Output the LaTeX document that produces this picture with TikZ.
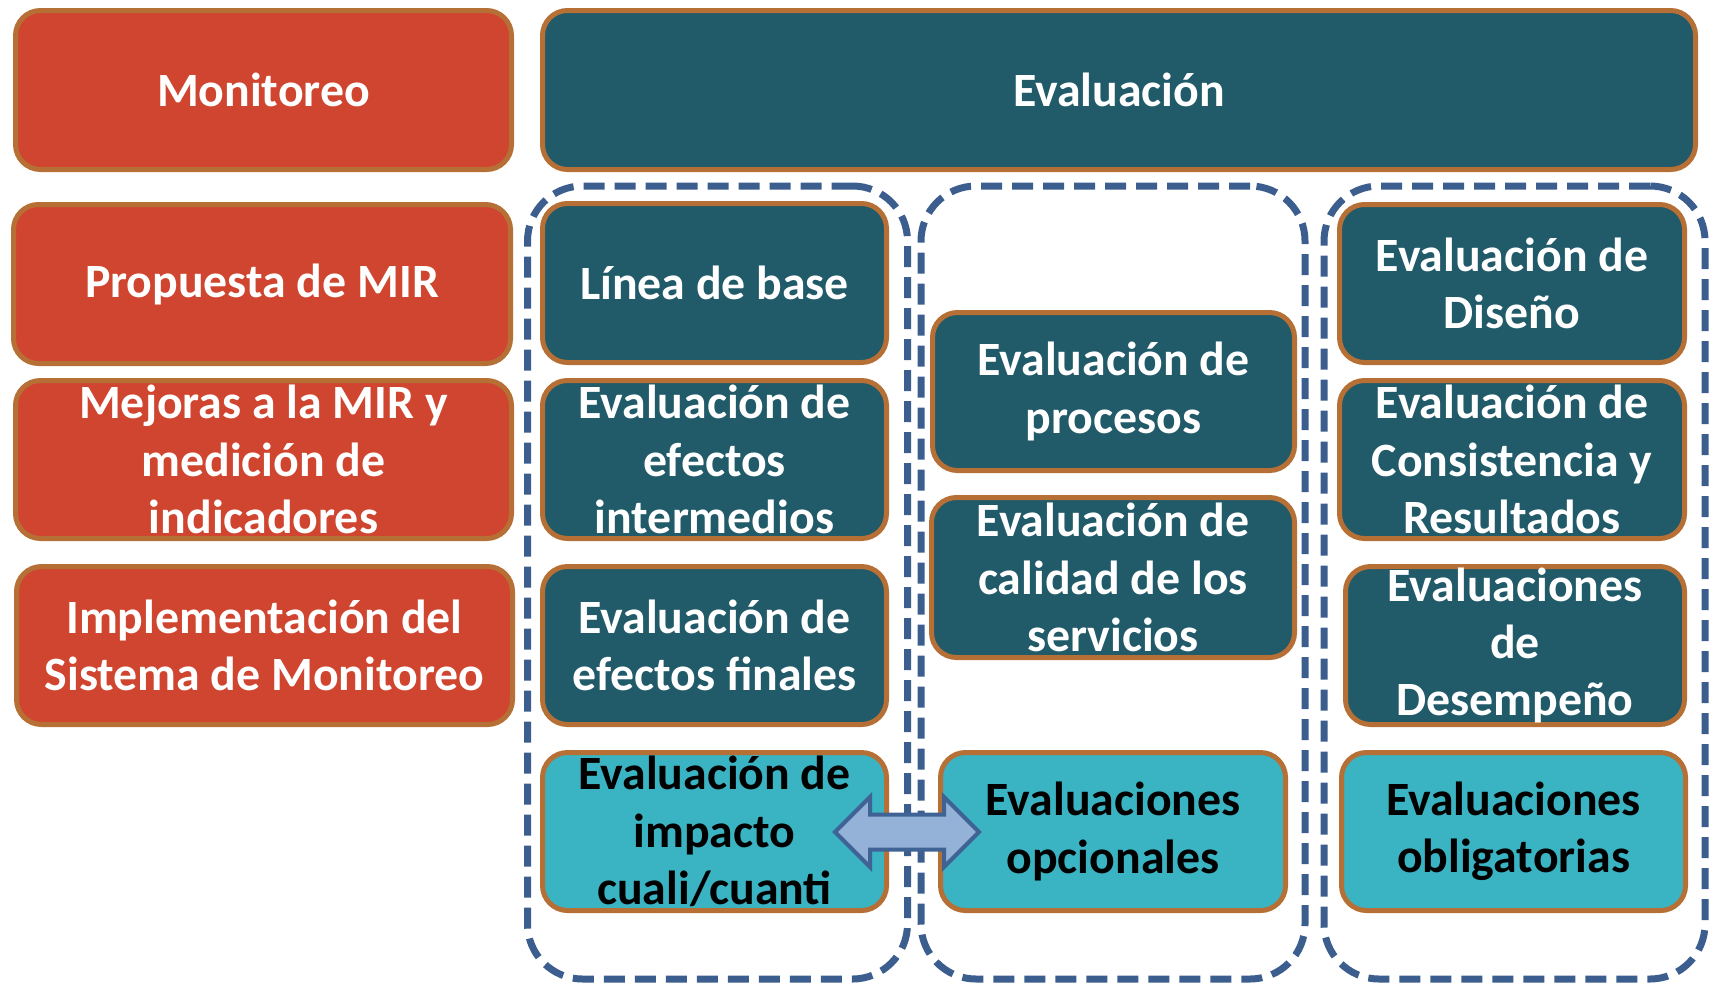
\documentclass[tikz,border=0pt]{standalone}
\usepackage{fontspec}
\setmainfont{Carlito}
\definecolor{redfill}{HTML}{D0452F}
\definecolor{darkteal}{HTML}{215A69}
\definecolor{lightteal}{HTML}{3AB3C2}
\definecolor{brownline}{HTML}{B66F35}
\definecolor{dashblue}{HTML}{3C5E8E}
\definecolor{arrowfill}{HTML}{94B2D8}
\definecolor{arrowline}{HTML}{3F6394}
\tikzset{
  base/.style={rectangle, rounded corners=25pt, draw=brownline, line width=5pt, align=center,
    font=\bfseries\fontsize{47.8}{57.4}\selectfont, inner sep=0pt},
  redbox/.style={base, fill=redfill, text=white},
  darkbox/.style={base, fill=darkteal, text=white},
  lightbox/.style={base, fill=lightteal, text=black},
  groupbox/.style={rectangle, rounded corners=55pt, draw=dashblue, line width=7pt,
    dash pattern=on 21pt off 10pt, minimum height=793pt, inner sep=0pt},
  blockarrow/.style={draw=arrowline, line width=4pt, fill=arrowfill, line join=miter},
}
\begin{document}
\begin{tikzpicture}[x=1pt,y=-1pt]
\useasboundingbox (0,0) rectangle (1715,986);
% dashed groups
\node[groupbox, minimum width=380pt] (g1) at (717.5,582.5) {};
\node[groupbox, minimum width=384pt] (g2) at (1113,582.5) {};
\node[groupbox, minimum width=381pt] (g3) at (1514.5,582.5) {};
% left column
\node[redbox, minimum width=496pt, minimum height=159pt] (mon) at (263.5,90) {Monitoreo};
\node[redbox, minimum width=497pt, minimum height=159pt] (prop) at (262,284) {Propuesta de MIR};
\node[redbox, minimum width=496pt, minimum height=158pt] (mej) at (263.5,459.5) {Mejoras a la MIR y\\medición de\\indicadores};
\node[redbox, minimum width=496pt, minimum height=158pt] (impl) at (264.5,645.5) {Implementación del\\Sistema de Monitoreo};
% top
\node[darkbox, minimum width=1153pt, minimum height=159pt] (eval) at (1119,90) {Evaluación};
% column 1
\node[darkbox, minimum width=344pt, minimum height=159pt] (linea) at (714.5,283) {Línea de base};
\node[darkbox, minimum width=344pt, minimum height=158pt] (interm) at (714.5,459.5) {Evaluación de\\efectos\\intermedios};
\node[darkbox, minimum width=344pt, minimum height=158pt] (finales) at (714.5,645.5) {Evaluación de\\efectos finales};
\node[lightbox, minimum width=344pt, minimum height=158pt] (impacto) at (714.5,831.5) {Evaluación de\\impacto\\cuali/cuanti};
% column 2
\node[darkbox, minimum width=362pt, minimum height=158pt] (procesos) at (1113.5,391.5) {Evaluación de\\procesos};
\node[darkbox, minimum width=363pt, minimum height=160pt] (calidad) at (1113,577.5) {Evaluación de\\calidad de los\\servicios};
\node[lightbox, minimum width=345pt, minimum height=158pt] (opcionales) at (1113,831.5) {Evaluaciones\\opcionales};
% column 3
\node[darkbox, minimum width=345pt, minimum height=158pt] (diseno) at (1512,283.5) {Evaluación de\\Diseño};
\node[darkbox, minimum width=345pt, minimum height=158pt] (consist) at (1512,459.5) {Evaluación de\\Consistencia y\\Resultados};
\node[darkbox, minimum width=339pt, minimum height=158pt] (desemp) at (1515,645.5) {Evaluaciones\\de\\Desempeño};
\node[lightbox, minimum width=344pt, minimum height=158pt] (oblig) at (1513.5,831.5) {Evaluaciones\\obligatorias};
% block double arrow between impacto and opcionales
\coordinate (ar) at (907,832);
\begin{scope}[shift={(ar)}]
\draw[blockarrow] (-72,0) -- (-37,-35) -- (-37,-17.5) -- (37,-17.5) -- (37,-35) -- (72,0)
  -- (37,35) -- (37,17.5) -- (-37,17.5) -- (-37,35) -- cycle;
\end{scope}
\end{tikzpicture}
\end{document}
